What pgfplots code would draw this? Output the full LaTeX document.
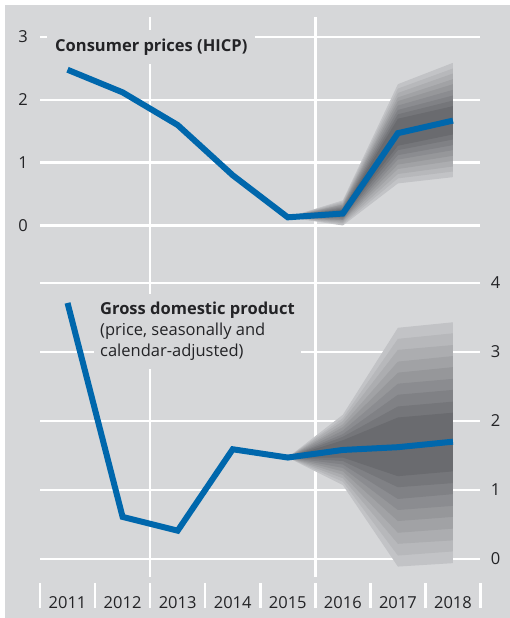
\documentclass[border=0pt]{standalone}
\usepackage{pgfplots}
\pgfplotsset{compat=1.18}
\usepackage{fontspec}
\setmainfont{Open Sans}
\definecolor{bg}{RGB}{214,215,217}
\definecolor{dbblue}{RGB}{0,103,172}
\definecolor{txt}{RGB}{35,35,38}
\definecolor{fanL}{RGB}{194,195,198}
\definecolor{fanD}{RGB}{106,107,111}
\pgfplotsset{
  base/.style={
    scale only axis, anchor=south west, width=440.5pt,
    xmin=0.5, xmax=8.5,
    axis line style={draw=none}, major tick length=0pt,
    major grid style={white, line width=2.6pt},
    tick label style={font=\fontsize{16.5}{20}\selectfont, text=txt},
    /pgf/number format/assume math mode=true,
    clip=false,
  },
  f0/.style={fill=fanD!0!fanL, draw=none},
  f1/.style={fill=fanD!12.5!fanL, draw=none},
  f2/.style={fill=fanD!25!fanL, draw=none},
  f3/.style={fill=fanD!37.5!fanL, draw=none},
  f4/.style={fill=fanD!50!fanL, draw=none},
  f5/.style={fill=fanD!62.5!fanL, draw=none},
  f6/.style={fill=fanD!75!fanL, draw=none},
  f7/.style={fill=fanD!87.5!fanL, draw=none},
  f8/.style={fill=fanD!100!fanL, draw=none},
}
\begin{document}
\fontsize{16.5}{21}\selectfont
\begin{tikzpicture}[x=1pt,y=1pt]
\path[use as bounding box] (0,0) rectangle (510,618);
\fill[bg] (5,0) rectangle (510,613);
% ---------------- top panel: HICP
\begin{axis}[base, at={(40pt,325pt)}, height=276pt,
  ymin=-1.075, ymax=3.32,
  xtick=\empty, extra x ticks={2.5,5.5}, extra x tick labels={},
  extra x tick style={grid=major},
  ytick={0,1,2,3}, ymajorgrids,
  yticklabel style={anchor=center, xshift=-17pt},
]
\addplot[f0] coordinates {(5,0.13)(6,0.40)(7,2.25)(8,2.59)(8,0.77)(7,0.67)(6,0.00)} -- cycle;
\addplot[f1] coordinates {(5,0.13)(6,0.38)(7,2.18)(8,2.50)(8,0.86)(7,0.75)(6,0.02)} -- cycle;
\addplot[f2] coordinates {(5,0.13)(6,0.36)(7,2.11)(8,2.42)(8,0.94)(7,0.82)(6,0.04)} -- cycle;
\addplot[f3] coordinates {(5,0.13)(6,0.34)(7,2.04)(8,2.33)(8,1.03)(7,0.90)(6,0.06)} -- cycle;
\addplot[f4] coordinates {(5,0.13)(6,0.33)(7,1.98)(8,2.25)(8,1.11)(7,0.97)(6,0.08)} -- cycle;
\addplot[f5] coordinates {(5,0.13)(6,0.31)(7,1.91)(8,2.16)(8,1.20)(7,1.05)(6,0.09)} -- cycle;
\addplot[f6] coordinates {(5,0.13)(6,0.29)(7,1.84)(8,2.07)(8,1.28)(7,1.12)(6,0.11)} -- cycle;
\addplot[f7] coordinates {(5,0.13)(6,0.27)(7,1.77)(8,1.99)(8,1.37)(7,1.20)(6,0.13)} -- cycle;
\addplot[f8] coordinates {(5,0.13)(6,0.25)(7,1.70)(8,1.90)(8,1.45)(7,1.27)(6,0.15)} -- cycle;
\addplot[dbblue, line width=6pt] coordinates {(1,2.48)(2,2.12)(3,1.60)(4,0.80)(5,0.13)(6,0.19)(7,1.47)(8,1.67)};
\node[anchor=base west, fill=bg, inner xsep=8pt, inner ysep=9pt, text=txt, font=\bfseries]
  at (axis cs:0.627,2.77) {Consumer prices (HICP)};
\end{axis}
% ---------------- bottom panel: GDP
\begin{axis}[base, at={(40pt,41pt)}, height=297.5pt,
  ymin=-0.261, ymax=4.05,
  xtick=\empty, extra x ticks={2.5,5.5}, extra x tick labels={},
  extra x tick style={grid=major},
  ytick={0,1,2,3,4}, ymajorgrids, yticklabel pos=right,
  yticklabel style={anchor=center, xshift=15pt},
]
\addplot[f0] coordinates {(5,1.47)(6,2.09)(7,3.35)(8,3.43)(8,-0.06)(7,-0.11)(6,1.07)} -- cycle;
\addplot[f1] coordinates {(5,1.47)(6,2.04)(7,3.19)(8,3.27)(8,0.11)(7,0.05)(6,1.12)} -- cycle;
\addplot[f2] coordinates {(5,1.47)(6,2.00)(7,3.03)(8,3.10)(8,0.27)(7,0.22)(6,1.17)} -- cycle;
\addplot[f3] coordinates {(5,1.47)(6,1.95)(7,2.86)(8,2.94)(8,0.44)(7,0.38)(6,1.22)} -- cycle;
\addplot[f4] coordinates {(5,1.47)(6,1.91)(7,2.70)(8,2.78)(8,0.61)(7,0.55)(6,1.27)} -- cycle;
\addplot[f5] coordinates {(5,1.47)(6,1.86)(7,2.54)(8,2.61)(8,0.77)(7,0.71)(6,1.32)} -- cycle;
\addplot[f6] coordinates {(5,1.47)(6,1.81)(7,2.38)(8,2.45)(8,0.94)(7,0.87)(6,1.37)} -- cycle;
\addplot[f7] coordinates {(5,1.47)(6,1.77)(7,2.21)(8,2.28)(8,1.10)(7,1.04)(6,1.42)} -- cycle;
\addplot[f8] coordinates {(5,1.47)(6,1.72)(7,2.05)(8,2.12)(8,1.27)(7,1.20)(6,1.47)} -- cycle;
\addplot[dbblue, line width=6pt] coordinates {(1,3.71)(2,0.61)(3,0.41)(4,1.59)(5,1.47)(6,1.58)(7,1.62)(8,1.70)};
\node[anchor=base west, fill=bg, inner xsep=6pt, inner ysep=8pt, text=txt, align=left]
  at (axis cs:1.48,2.93) {\textbf{Gross domestic product}\\(price, seasonally and\\calendar-adjusted)};
\end{axis}
% ---------------- year labels
\begin{axis}[base, at={(40pt,10pt)}, height=25pt,
  ymin=0, ymax=1, ytick=\empty,
  xtick={1,2,3,4,5,6,7,8},
  xticklabels={2011,2012,2013,2014,2015,2016,2017,2018},
  xticklabel style={anchor=base, yshift=0pt},
  extra x ticks={0.5,1.5,2.5,3.5,4.5,5.5,6.5,7.5,8.5}, extra x tick labels={},
  extra x tick style={grid=major},
]
\end{axis}
\end{tikzpicture}
\end{document}
